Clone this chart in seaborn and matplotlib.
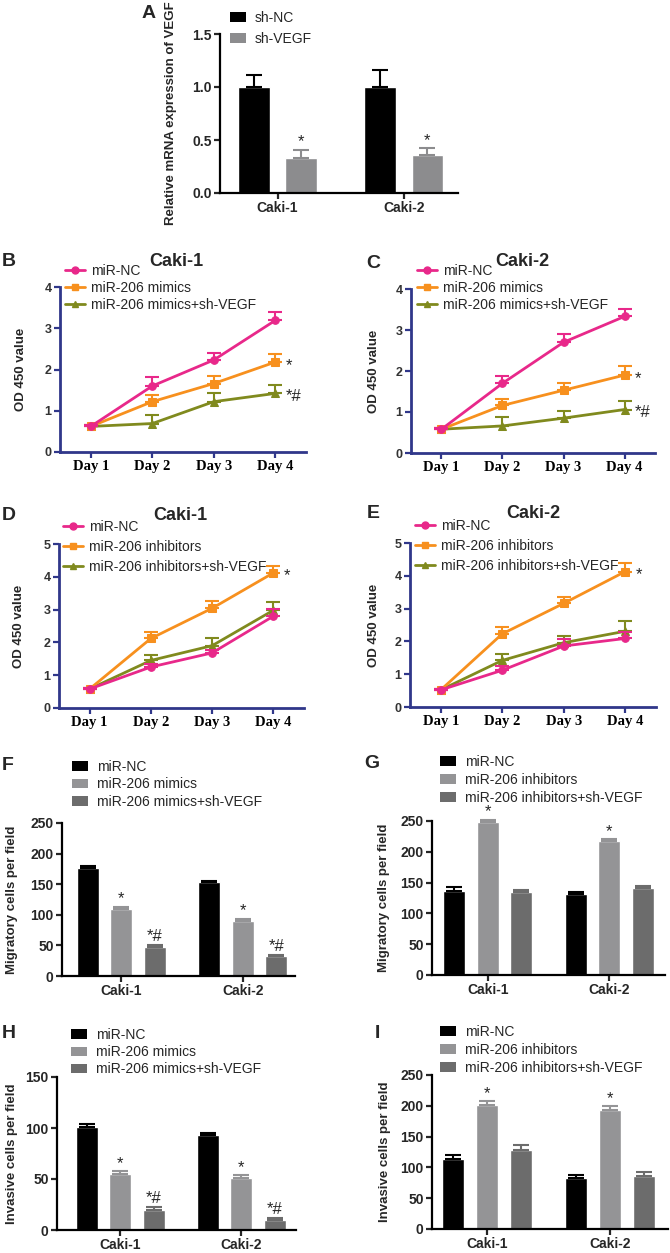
import numpy as np
import pandas as pd
import matplotlib
matplotlib.use('Agg')
import matplotlib.pyplot as plt
from matplotlib.patches import Patch
from matplotlib.lines import Line2D
import seaborn as sns

sns.set_style('ticks')
plt.rcParams['font.family'] = ['Liberation Sans', 'DejaVu Sans']

# ---- data ----
cells = ['Caki-1', 'Caki-2']
days = ['Day 1', 'Day 2', 'Day 3', 'Day 4']

# A: VEGF mRNA
a_groups = ['sh-NC', 'sh-VEGF']
a_mean = [[1.0, 1.0], [0.33, 0.36]]
a_err = [[0.11, 0.16], [0.08, 0.06]]
a_sig = [['', ''], ['*', '*']]

# B-E: CCK-8 growth curves
mim_groups = ['miR-NC', 'miR-206 mimics', 'miR-206 mimics+sh-VEGF']
inh_groups = ['miR-NC', 'miR-206 inhibitors', 'miR-206 inhibitors+sh-VEGF']

b_mean = [[0.62, 1.60, 2.23, 3.19], [0.62, 1.22, 1.66, 2.18], [0.62, 0.69, 1.22, 1.42]]
b_err = [[0.03, 0.21, 0.18, 0.20], [0.03, 0.16, 0.19, 0.20], [0.03, 0.20, 0.21, 0.20]]
c_mean = [[0.58, 1.70, 2.70, 3.33], [0.58, 1.16, 1.53, 1.90], [0.58, 0.66, 0.85, 1.06]]
c_err = [[0.03, 0.19, 0.20, 0.19], [0.03, 0.15, 0.18, 0.21], [0.03, 0.23, 0.18, 0.22]]
d_mean = [[0.58, 1.25, 1.68, 2.80], [0.58, 2.12, 3.04, 4.12], [0.58, 1.45, 1.90, 2.98]]
d_err = [[0.03, 0.08, 0.10, 0.22], [0.03, 0.20, 0.22, 0.20], [0.03, 0.18, 0.24, 0.26]]
e_mean = [[0.52, 1.12, 1.86, 2.09], [0.52, 2.23, 3.16, 4.13], [0.52, 1.42, 1.96, 2.31]]
e_err = [[0.03, 0.12, 0.20, 0.20], [0.03, 0.20, 0.18, 0.25], [0.03, 0.20, 0.20, 0.30]]
bc_sig = ['', '*', '*#']
de_sig = ['', '*', '']

# F-I: transwell counts
f_mean = [[177, 153], [110, 90], [48, 32]]
f_err = [[3, 3], [3, 3], [3, 3]]
g_mean = [[136, 132], [249, 217], [135, 141]]
g_err = [[7, 3], [3, 3], [3, 4]]
h_mean = [[101, 93], [55, 51], [20, 9.5]]
h_err = [[2.5, 2], [2.5, 2.5], [3, 2.5]]
i_mean = [[113, 82], [202, 193], [129, 86]]
i_err = [[7, 6], [5, 6], [7, 6.5]]
mim_sig = [['', ''], ['*', '*'], ['*#', '*#']]
inh_sig = [['', ''], ['*', '*'], ['', '']]

# ---- styling ----
W, H = 670, 1253
NAVY = '#30378a'
line_colors = ['#e8288a', '#f7901e', '#808a1e']
line_markers = ['o', 's', '^']
bar2_colors = ['#000000', '#8c8c8e']
bar3_colors = ['#000000', '#949496', '#6c6c6c']

fig = plt.figure(figsize=(W / 100, H / 100), dpi=100)


def box(l, t, r, b):
    return [l / W, 1 - b / H, (r - l) / W, (b - t) / H]


def fig_legend(ax, handles, labels, x, y, spacing, hl, hh=0.7, pad=0.4):
    ax.legend(handles, labels, loc='upper left', bbox_to_anchor=(x / W, 1 - y / H),
              bbox_transform=fig.transFigure, frameon=False, fontsize=10,
              borderpad=0, borderaxespad=0, handlelength=hl, handleheight=hh,
              handletextpad=pad, labelspacing=spacing)


def bar_panel(rect, groups, means, errs, sigs, colors, xlim, ylim, yticks,
              ylabel, ylab_x, width, gap, tickfmt, fs=10):
    ax = fig.add_axes(rect)
    df = pd.DataFrame({'cell': np.tile(cells, len(groups)),
                       'group': np.repeat(groups, len(cells)),
                       'value': np.ravel(means)})
    sns.barplot(data=df, x='cell', y='value', hue='group', hue_order=groups,
                palette=colors, width=width, gap=gap, errorbar=None,
                legend=False, saturation=1, ax=ax)
    bars = list(ax.containers)
    for k, cont in enumerate(bars):
        xs = [p.get_x() + p.get_width() / 2 for p in cont.patches]
        hs = [p.get_height() for p in cont.patches]
        ax.errorbar(xs, hs, yerr=[np.zeros(len(xs)), errs[k]], fmt='none',
                    ecolor=colors[k], elinewidth=1.5, capsize=6, capthick=1.5,
                    clip_on=False)
        for xx, hh, ee, s in zip(xs, hs, errs[k], sigs[k]):
            if s:
                ax.annotate(s, (xx, hh + ee), xytext=(0, 0.5), textcoords='offset points',
                            ha='center', va='bottom', fontsize=12,
                            annotation_clip=False)
    ax.set_xlim(*xlim)
    ax.set_ylim(*ylim)
    ax.set_yticks(yticks)
    ax.set_yticklabels([tickfmt.format(v) for v in yticks])
    ax.set_xlabel('')
    ax.set_ylabel(ylabel, fontsize=9.5, fontweight='bold')
    ax.yaxis.set_label_coords(ylab_x, 0.5)
    sns.despine(ax=ax)
    for s in ['left', 'bottom']:
        ax.spines[s].set_linewidth(1.6)
        ax.spines[s].set_color('black')
    ax.tick_params(width=1.6, length=4, labelsize=fs, pad=2)
    for t in ax.get_xticklabels() + ax.get_yticklabels():
        t.set_fontweight('bold')
    return ax


def line_panel(rect, groups, means, errs, sigs, ylim, title, tx, ty, ylab_x):
    ax = fig.add_axes(rect)
    x = np.arange(len(days))
    for k in reversed(range(len(groups))):
        sns.lineplot(x=x, y=means[k], color=line_colors[k], marker=line_markers[k],
                     markersize=5.5, markeredgecolor=line_colors[k], linewidth=2,
                     ax=ax, zorder=3 + (2 - k))
        ax.errorbar(x, means[k], yerr=[np.zeros(len(x)), errs[k]], fmt='none',
                    ecolor=line_colors[k], elinewidth=1.5, capsize=5, capthick=1.5,
                    zorder=2 + (2 - k))
        if sigs[k]:
            ax.text(x[-1] + 0.17, means[k][-1] - 0.08, sigs[k], ha='left', va='center',
                    fontsize=12)
    ax.set_xlim(-0.5, 3.5)
    ax.set_ylim(*ylim)
    ax.set_yticks(range(ylim[0], ylim[1] + 1))
    ax.set_xticks(x)
    ax.set_xticklabels(days, fontfamily='Liberation Serif', fontweight='bold',
                       fontsize=10.5, color='black')
    ax.set_ylabel('OD 450 value', fontsize=9.5, fontweight='bold')
    ax.yaxis.set_label_coords(ylab_x, 0.5)
    sns.despine(ax=ax)
    for s in ['left', 'bottom']:
        ax.spines[s].set_linewidth(2)
        ax.spines[s].set_color(NAVY)
    ax.tick_params(color=NAVY, width=1.6, length=4, pad=2)
    ax.tick_params(axis='y', labelsize=9, labelcolor='#333333')
    for t in ax.get_yticklabels():
        t.set_fontweight('bold')
    fig.text(tx / W, 1 - ty / H, title, ha='center', va='center',
             fontsize=13, fontweight='bold')
    return ax


def line_legend(ax, groups, x, y, spacing):
    hs = [Line2D([], [], color=line_colors[k], marker=line_markers[k], markersize=5,
                 linewidth=2) for k in range(len(groups))]
    fig_legend(ax, hs, groups, x, y, spacing, hl=1.45, pad=0.4)


def bar_legend(ax, groups, colors, x, y, spacing):
    hs = [Patch(facecolor=c, edgecolor='none') for c in colors]
    fig_legend(ax, hs, groups, x, y, spacing, hl=1.15, hh=0.65, pad=0.65)


# A
axA = bar_panel(box(220, 34, 458, 193), a_groups, a_mean, a_err, a_sig, bar2_colors,
                (-0.456, 1.43), (0, 1.5), [0, 0.5, 1.0, 1.5],
                'Relative mRNA expression of VEGF', -0.18, 0.746, 0.33, '{:.1f}', fs=10)
bar_legend(axA, a_groups, bar2_colors, 230, 11, 0.5)

# B-E
axB = line_panel(box(60, 287, 306, 452), mim_groups, b_mean, b_err, bc_sig, (0, 4),
                 'Caki-1', 176, 262, -0.135)
line_legend(axB, mim_groups, 65, 264, 0.22)
axC = line_panel(box(411, 289, 655, 453), mim_groups, c_mean, c_err, bc_sig, (0, 4),
                 'Caki-2', 522, 262, -0.127)
line_legend(axC, mim_groups, 417, 264, 0.22)
axD = line_panel(box(59, 544, 304, 708), inh_groups, d_mean, d_err, de_sig, (0, 5),
                 'Caki-1', 180, 515, -0.139)
line_legend(axD, inh_groups, 63, 520, 0.43)
axE = line_panel(box(410, 543, 656, 707), inh_groups, e_mean, e_err, de_sig, (0, 5),
                 'Caki-2', 533, 513, -0.122)
line_legend(axE, inh_groups, 415, 519, 0.43)

# F-I
axF = bar_panel(box(62, 823, 295, 976), mim_groups, f_mean, f_err, mim_sig, bar3_colors,
                (-0.49, 1.43), (0, 250), [0, 50, 100, 150, 200, 250],
                'Migratory cells per field', -0.19, 0.828, 0.345, '{:d}')
bar_legend(axF, mim_groups, bar3_colors, 72, 760, 0.25)
axG = bar_panel(box(432, 821, 665, 975), inh_groups, g_mean, g_err, inh_sig, bar3_colors,
                (-0.46, 1.46), (0, 250), [0, 50, 100, 150, 200, 250],
                'Migratory cells per field', -0.18, 0.828, 0.345, '{:d}')
bar_legend(axG, inh_groups, bar3_colors, 440, 755, 0.28)
axH = bar_panel(box(57, 1077, 296, 1230), mim_groups, h_mean, h_err, mim_sig, bar3_colors,
                (-0.52, 1.45), (0, 150), [0, 50, 100, 150],
                'Invasive cells per field', -0.163, 0.828, 0.345, '{:d}')
bar_legend(axH, mim_groups, bar3_colors, 71, 1028, 0.22)
axI = bar_panel(box(432, 1075, 668, 1229), inh_groups, i_mean, i_err, inh_sig, bar3_colors,
                (-0.45, 1.47), (0, 250), [0, 50, 100, 150, 200, 250],
                'Invasive cells per field', -0.174, 0.828, 0.345, '{:d}')
bar_legend(axI, inh_groups, bar3_colors, 440, 1025, 0.28)

# panel letters
for lab, x, y in [('A', 149, 13), ('B', 9, 262), ('C', 373, 263), ('D', 9, 515),
                  ('E', 373, 514), ('F', 8, 765), ('G', 372, 764), ('H', 9, 1034),
                  ('I', 377, 1033)]:
    fig.text(x / W, 1 - y / H, lab, ha='center', va='center', fontsize=14,
             fontweight='bold')

fig.savefig('out.png', dpi=100)
